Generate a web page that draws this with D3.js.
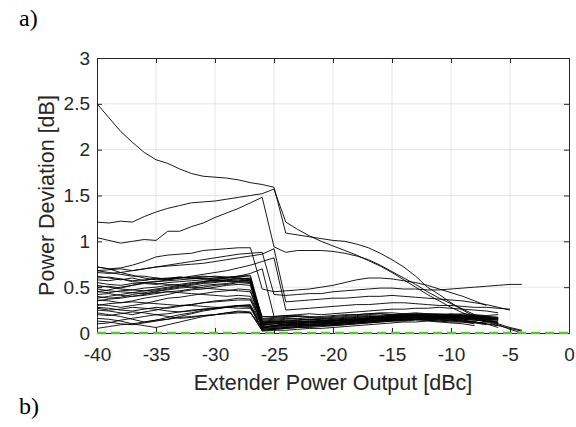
<!DOCTYPE html>
<html><head><meta charset="utf-8">
<script src="https://cdn.jsdelivr.net/npm/d3@7"></script>
<style>body{margin:0;background:#fff}svg{display:block}</style>
</head><body><svg id="c" width="576" height="427"></svg>
<script>
// x grid (dBc) shared by every curve: each series starts at -40
const xValues = [-40,-39,-38,-37,-36,-35,-34,-33,-32,-31,-30,-29,-28,-27,-26,-25,-24,-23,-22,-21,-20,-19,-18,-17,-16,-15,-14,-13,-12,-11,-10,-9,-8,-7,-6,-5,-4];
const xTicks = [-40,-35,-30,-25,-20,-15,-10,-5,0];
const yTicks = [0,0.5,1,1.5,2,2.5,3];
const yTickLabels = ["0","0.5","1","1.5","2","2.5","3"];
const xTickLabels = ["-40","-35","-30","-25","-20","-15","-10","-5","0"];
const xLabel = "Extender Power Output [dBc]";
const yLabel = "Power Deviation [dB]";
const panelLabels = ["a)","b)"];
const referenceX = [-40,0];
const referenceY = [0,0];

// upper curves
const seriesTop = [
 [2.50,2.35,2.20,2.08,1.97,1.89,1.85,1.79,1.74,1.71,1.70,1.69,1.67,1.64,1.62,1.59,1.09,1.07,1.05,1.03,1.01,1.00,0.97,0.93,0.87,0.80,0.72,0.62,0.50,0.42,0.33,0.25,0.18,0.13,0.09,0.04,0.00],
 [1.21,1.20,1.22,1.21,1.27,1.32,1.36,1.39,1.42,1.43,1.44,1.46,1.48,1.50,1.52,1.57,1.21,1.13,1.06,1.00,0.95,0.90,0.85,0.79,0.73,0.66,0.58,0.50,0.42,0.35,0.28,0.22,0.17,0.12,0.08,0.05,0.02],
 [1.04,1.01,0.98,1.00,1.02,1.01,1.11,1.11,1.16,1.20,1.26,1.31,1.36,1.42,1.48,0.94,0.88,0.90,0.90,0.90,0.89,0.87,0.84,0.80,0.74,0.67,0.60,0.53,0.45,0.38,0.32,0.26,0.20,0.15,0.10,0.06,0.03]
];

// middle curves (peak near -27..-25 then drop)
const seriesMid = [
 [0.72,0.70,0.71,0.74,0.78,0.83,0.85,0.86,0.87,0.90,0.91,0.92,0.93,0.93,0.48,0.45,0.46,0.47,0.48,0.50,0.52,0.55,0.58,0.60,0.60,0.59,0.57,0.55,0.52,0.48,0.44,0.40,0.35,0.30],
 [0.66,0.65,0.66,0.68,0.70,0.72,0.74,0.76,0.78,0.80,0.82,0.84,0.86,0.87,0.88,0.42,0.41,0.42,0.43,0.43,0.45,0.46,0.47,0.48,0.49,0.49,0.48,0.48,0.47,0.47,0.48,0.49,0.50,0.51,0.52,0.53,0.53],
 [0.45,0.47,0.50,0.52,0.55,0.56,0.58,0.60,0.62,0.64,0.66,0.68,0.71,0.74,0.78,0.82,0.25,0.26,0.27,0.28,0.29,0.30,0.31,0.31,0.32,0.33,0.33,0.32,0.31,0.30,0.30,0.29,0.28,0.28,0.27,0.26],
 [0.38,0.40,0.42,0.44,0.46,0.48,0.50,0.52,0.54,0.56,0.58,0.60,0.62,0.65,0.70,0.18,0.19,0.20,0.21,0.20,0.21,0.22,0.23,0.24,0.25,0.26,0.26,0.27,0.27,0.28,0.27,0.26,0.25,0.24,0.22],
 [0.68,0.69,0.70,0.68,0.70,0.72,0.73,0.74,0.75,0.76,0.78,0.80,0.82,0.84,0.86,0.92,0.34,0.35,0.36,0.37,0.38,0.38,0.39,0.40,0.40,0.41,0.40,0.39,0.38,0.37,0.36,0.35,0.33,0.31,0.28,0.25]
];

// lower dense group (drop near -27 -> -26)
const seriesLow = [
 [0.62,0.60,0.58,0.60,0.57,0.60,0.58,0.60,0.61,0.62,0.61,0.60,0.62,0.61,0.12,0.13,0.14,0.14,0.15,0.14,0.13,0.15,0.16,0.17,0.17,0.18,0.18,0.19,0.20,0.19,0.19,0.18,0.18,0.18,0.17],
 [0.55,0.53,0.52,0.54,0.55,0.56,0.57,0.58,0.59,0.60,0.59,0.60,0.60,0.58,0.08,0.10,0.11,0.12,0.12,0.11,0.10,0.12,0.14,0.15,0.16,0.17,0.16,0.17,0.18,0.18,0.17,0.16,0.17,0.16,0.15],
 [0.50,0.51,0.49,0.52,0.54,0.53,0.55,0.56,0.57,0.58,0.57,0.58,0.59,0.57,0.05,0.08,0.09,0.10,0.09,0.10,0.11,0.12,0.13,0.14,0.15,0.16,0.17,0.18,0.17,0.18,0.19,0.18,0.17,0.15,0.12],
 [0.45,0.44,0.46,0.47,0.49,0.50,0.52,0.53,0.55,0.56,0.57,0.58,0.60,0.59,0.15,0.16,0.17,0.18,0.17,0.16,0.17,0.18,0.19,0.20,0.21,0.20,0.21,0.20,0.21,0.20,0.19,0.19,0.18,0.19,0.20],
 [0.40,0.38,0.39,0.42,0.44,0.46,0.47,0.49,0.50,0.52,0.53,0.54,0.56,0.55,0.10,0.11,0.12,0.13,0.13,0.12,0.11,0.13,0.15,0.16,0.17,0.18,0.19,0.19,0.18,0.17,0.18,0.17,0.16,0.14,0.10],
 [0.36,0.35,0.33,0.35,0.38,0.40,0.42,0.45,0.47,0.48,0.50,0.52,0.53,0.52,0.06,0.07,0.08,0.09,0.10,0.11,0.10,0.11,0.12,0.13,0.14,0.15,0.16,0.16,0.17,0.16,0.17,0.16,0.15,0.13],
 [0.31,0.30,0.28,0.30,0.32,0.35,0.38,0.39,0.41,0.43,0.45,0.46,0.48,0.47,0.04,0.05,0.06,0.07,0.08,0.09,0.09,0.10,0.11,0.12,0.13,0.14,0.14,0.15,0.16,0.15,0.15,0.14,0.12,0.10,0.08],
 [0.25,0.24,0.22,0.20,0.23,0.25,0.28,0.30,0.31,0.33,0.35,0.36,0.38,0.37,0.12,0.13,0.12,0.11,0.12,0.13,0.14,0.14,0.15,0.16,0.17,0.17,0.18,0.19,0.18,0.19,0.18,0.18,0.17,0.16,0.15],
 [0.22,0.20,0.18,0.15,0.12,0.14,0.17,0.20,0.22,0.25,0.27,0.28,0.30,0.29,0.03,0.04,0.05,0.06,0.06,0.07,0.08,0.09,0.10,0.11,0.12,0.13,0.13,0.14,0.14,0.13,0.12,0.12,0.11,0.09],
 [0.16,0.15,0.13,0.10,0.08,0.06,0.09,0.12,0.15,0.18,0.20,0.22,0.24,0.23,0.02,0.03,0.03,0.04,0.05,0.05,0.06,0.07,0.08,0.09,0.10,0.11,0.12,0.12,0.13,0.12,0.11,0.10,0.08],
 [0.10,0.11,0.14,0.16,0.18,0.20,0.21,0.23,0.25,0.26,0.27,0.28,0.29,0.28,0.09,0.10,0.09,0.08,0.09,0.10,0.11,0.12,0.14,0.15,0.15,0.16,0.17,0.17,0.16,0.17,0.16,0.15,0.14,0.13,0.11],
 [0.58,0.57,0.59,0.56,0.55,0.54,0.53,0.52,0.50,0.49,0.48,0.47,0.46,0.45,0.14,0.15,0.16,0.15,0.14,0.15,0.16,0.17,0.18,0.19,0.18,0.19,0.20,0.21,0.20,0.19,0.20,0.19,0.18,0.17,0.16],
 [0.72,0.70,0.66,0.63,0.60,0.58,0.59,0.60,0.60,0.61,0.62,0.61,0.62,0.63,0.16,0.17,0.18,0.18,0.17,0.18,0.19,0.20,0.20,0.21,0.21,0.20,0.20,0.21,0.20,0.20,0.21,0.20,0.19,0.18],
 [0.68,0.66,0.64,0.62,0.62,0.60,0.59,0.61,0.60,0.59,0.60,0.61,0.60,0.59,0.07,0.08,0.10,0.11,0.12,0.12,0.13,0.14,0.15,0.16,0.16,0.17,0.18,0.17,0.18,0.17,0.16,0.17,0.16,0.15,0.14],
 [0.48,0.46,0.45,0.44,0.43,0.44,0.45,0.44,0.43,0.42,0.41,0.40,0.41,0.40,0.10,0.12,0.13,0.13,0.12,0.13,0.14,0.15,0.15,0.16,0.17,0.17,0.18,0.18,0.17,0.17,0.18,0.17,0.16,0.15,0.14],
 [0.30,0.32,0.33,0.34,0.33,0.32,0.31,0.30,0.30,0.29,0.28,0.28,0.27,0.27,0.05,0.06,0.07,0.08,0.08,0.09,0.10,0.11,0.12,0.13,0.14,0.14,0.15,0.15,0.14,0.15,0.14,0.13,0.12,0.11],
 [0.27,0.25,0.26,0.28,0.27,0.26,0.24,0.23,0.24,0.26,0.27,0.29,0.30,0.30,0.11,0.12,0.11,0.12,0.13,0.14,0.13,0.14,0.15,0.16,0.17,0.18,0.19,0.19,0.20,0.19,0.18,0.19,0.18,0.17,0.16],
 [0.20,0.19,0.21,0.23,0.22,0.20,0.18,0.16,0.17,0.19,0.20,0.21,0.22,0.22,0.03,0.04,0.05,0.06,0.07,0.08,0.08,0.09,0.10,0.11,0.12,0.13,0.14,0.15,0.14,0.13,0.14,0.13,0.12,0.10],
 [0.05,0.07,0.09,0.10,0.12,0.14,0.15,0.17,0.18,0.19,0.20,0.22,0.23,0.22,0.06,0.07,0.08,0.09,0.09,0.10,0.11,0.12,0.13,0.13,0.14,0.15,0.15,0.16,0.15,0.16,0.15,0.14,0.12,0.10,0.06],
 [0.42,0.43,0.41,0.40,0.42,0.45,0.48,0.50,0.52,0.54,0.55,0.57,0.58,0.57,0.13,0.14,0.15,0.16,0.15,0.14,0.15,0.16,0.17,0.18,0.19,0.19,0.20,0.20,0.19,0.20,0.19,0.18,0.19,0.18,0.17],
 [0.35,0.37,0.38,0.40,0.41,0.43,0.45,0.46,0.48,0.50,0.52,0.53,0.55,0.54,0.09,0.10,0.11,0.10,0.11,0.12,0.13,0.13,0.14,0.15,0.16,0.16,0.17,0.18,0.17,0.16,0.17,0.16,0.15,0.12],
 [0.60,0.61,0.59,0.57,0.58,0.59,0.60,0.61,0.60,0.59,0.58,0.57,0.56,0.56,0.18,0.18,0.19,0.19,0.18,0.17,0.18,0.19,0.20,0.21,0.22,0.22,0.21,0.22,0.21,0.21,0.20,0.21,0.20,0.19],
 [0.28,0.27,0.25,0.24,0.26,0.28,0.27,0.29,0.31,0.33,0.34,0.35,0.36,0.36,0.07,0.08,0.09,0.10,0.11,0.11,0.12,0.12,0.13,0.14,0.14,0.15,0.15,0.16,0.15,0.16,0.16,0.15,0.14,0.13,0.12],
 [0.13,0.12,0.10,0.09,0.11,0.13,0.15,0.18,0.21,0.24,0.26,0.28,0.30,0.31,0.04,0.05,0.06,0.07,0.08,0.08,0.09,0.10,0.11,0.12,0.13,0.14,0.14,0.15,0.15,0.14,0.13,0.12,0.10],
 [0.52,0.50,0.48,0.47,0.46,0.47,0.49,0.51,0.53,0.55,0.56,0.56,0.57,0.58,0.11,0.12,0.13,0.14,0.15,0.16,0.15,0.16,0.17,0.18,0.18,0.19,0.19,0.20,0.19,0.19,0.18,0.18,0.17,0.16,0.16]
];

const m = {left:97, right:569, top:58, bottom:333};
const svg = d3.select("#c");
const x = d3.scaleLinear().domain([-40,0]).range([m.left, m.right]);
const y = d3.scaleLinear().domain([0,3]).range([m.bottom, m.top]);
const axisColor = "#262626";
const font = "'Liberation Sans', Arial, sans-serif";

// grid
const grid = svg.append("g");
grid.selectAll("line.gx").data(xTicks.slice(1,-1)).enter().append("line")
  .attr("x1",d=>x(d)).attr("x2",d=>x(d)).attr("y1",m.top).attr("y2",m.bottom)
  .attr("stroke","#e0e0e0").attr("stroke-width",0.8);
grid.selectAll("line.gy").data(yTicks.slice(1,-1)).enter().append("line")
  .attr("y1",d=>y(d)).attr("y2",d=>y(d)).attr("x1",m.left).attr("x2",m.right)
  .attr("stroke","#e0e0e0").attr("stroke-width",0.8);

// axes (box with inward ticks)
const gx = svg.append("g").attr("transform",`translate(0,${m.bottom})`)
  .call(d3.axisBottom(x).tickValues(xTicks).tickSize(-5).tickFormat((d,i)=>xTickLabels[i]).tickPadding(15));
const gxt = svg.append("g").attr("transform",`translate(0,${m.top})`)
  .call(d3.axisTop(x).tickValues(xTicks).tickSize(-5).tickFormat(""));
const gy = svg.append("g").attr("transform",`translate(${m.left},0)`)
  .call(d3.axisLeft(y).tickValues(yTicks).tickSize(-5).tickFormat((d,i)=>yTickLabels[i]).tickPadding(7));
const gyr = svg.append("g").attr("transform",`translate(${m.right},0)`)
  .call(d3.axisRight(y).tickValues(yTicks).tickSize(-5).tickFormat(""));
[gx,gxt,gy,gyr].forEach(g=>{
  g.attr("font-size",null).attr("font-family",null);
  g.select(".domain").attr("stroke",axisColor).attr("stroke-width",1);
  g.selectAll(".tick line").attr("stroke",axisColor).attr("stroke-width",1);
  g.selectAll(".tick text").attr("fill",axisColor).style("font-family",font).style("font-size","19px");
});

// data lines
const line = d3.line().x((d,i)=>x(xValues[i])).y(d=>y(d));
const all = seriesLow.concat(seriesMid, seriesTop);
svg.append("g").selectAll("path").data(all).enter().append("path")
  .attr("d",line).attr("fill","none").attr("stroke","#000").attr("stroke-width",0.9)
  .attr("stroke-linejoin","round");

// green dashed reference
svg.append("path")
  .attr("d", d3.line().x((d,i)=>x(referenceX[i])).y(d=>y(d))(referenceY))
  .attr("fill","none").attr("stroke","#5cc23c").attr("stroke-width",2.6)
  .attr("stroke-dasharray","9,5");

// labels
svg.append("text").attr("x",(m.left+m.right)/2).attr("y",390).attr("text-anchor","middle")
  .style("font-family",font).style("font-size","21.5px").attr("fill",axisColor).text(xLabel);
svg.append("text").attr("transform",`translate(54,${(m.top+m.bottom)/2}) rotate(-90)`)
  .attr("text-anchor","middle").style("font-family",font).style("font-size","21.5px")
  .attr("fill",axisColor).text(yLabel);
svg.append("text").attr("x",19).attr("y",26).style("font-family","'Liberation Serif', 'Times New Roman', serif")
  .style("font-size","24px").attr("fill","#000").text(panelLabels[0]);
svg.append("text").attr("x",19).attr("y",414).style("font-family","'Liberation Serif', 'Times New Roman', serif")
  .style("font-size","24px").attr("fill","#000").text(panelLabels[1]);
</script>
</body></html>
